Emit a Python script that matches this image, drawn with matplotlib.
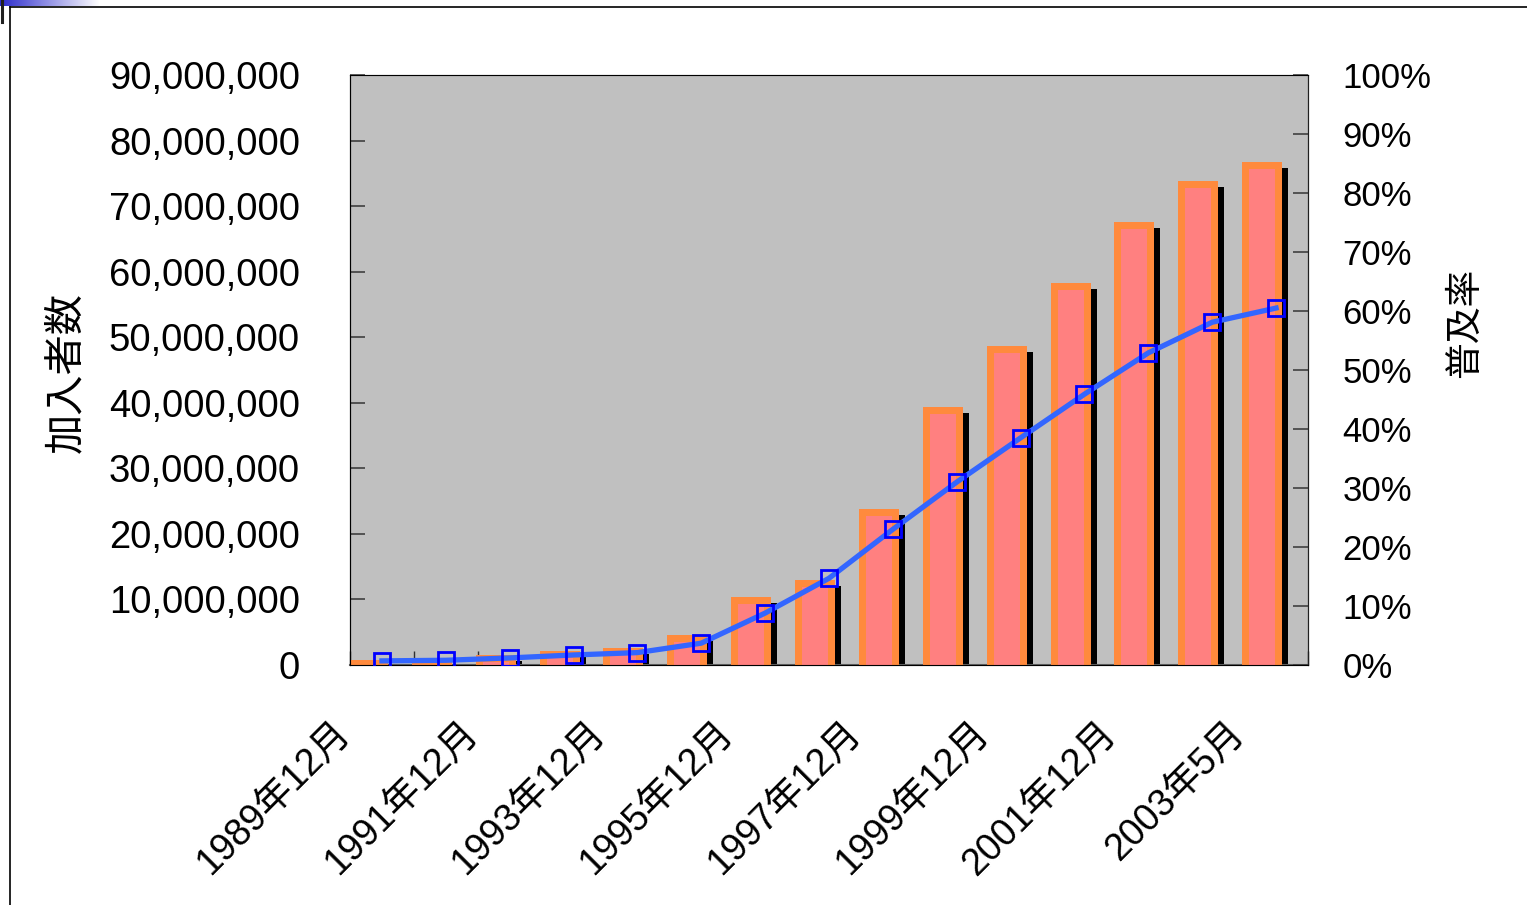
import numpy as np
import matplotlib
matplotlib.use("Agg")
import matplotlib.pyplot as plt
import matplotlib.transforms as mtransforms
from matplotlib.lines import Line2D
from matplotlib.ticker import FuncFormatter, MultipleLocator

plt.rcParams['font.family'] = ['Liberation Sans', 'Noto Sans CJK JP', 'DejaVu Sans']

# data
months = ["1989年12月", "1990年12月", "1991年12月", "1992年12月", "1993年12月",
          "1994年12月", "1995年12月", "1996年12月", "1997年12月", "1998年12月",
          "1999年12月", "2000年12月", "2001年12月", "2002年12月", "2003年5月"]
subscribers = [0.8e6, 1.1e6, 1.6e6, 2.1e6, 2.6e6, 4.6e6, 10.4e6, 13.0e6, 23.8e6,
               39.4e6, 48.6e6, 58.2e6, 67.6e6, 73.9e6, 76.8e6]
penetration = [0.7, 0.8, 1.2, 1.7, 2.1, 3.7, 8.8, 14.7, 23.0, 31.0, 38.5, 45.9,
               52.9, 58.1, 60.5]

W, H = 1527, 905
fig = plt.figure(figsize=(W / 100, H / 100), dpi=100)
ax = fig.add_axes([350 / W, 1 - 665 / H, 958 / W, 590 / H])
ax.set_facecolor('#C0C0C0')

x = np.arange(len(months))
cat_px = 958 / len(months)
px_y = 90e6 / 590
px_x = 1 / cat_px

left = x - 0.5 - 2 * px_x
bw = 40 * px_x
sub = np.array(subscribers)

# shadow, orange frame, pink inside
ax.bar(left + 6 * px_x, sub - 6 * px_y, width=bw, align='edge', color='black',
       zorder=2)
ax.bar(left, sub, width=bw, align='edge', color='#FF8A3D', zorder=3)
inner = np.clip(sub - 7 * px_y, 0, None)
ax.bar(left + 7 * px_x, inner, width=bw - 14 * px_x, align='edge',
       color='#FF8080', zorder=4)

ax.set_xlim(-0.5, len(months) - 0.5)
ax.set_ylim(0, 90e6)
ax.yaxis.set_major_locator(MultipleLocator(10e6))
ax.yaxis.set_major_formatter(FuncFormatter(lambda v, p: f"{int(v):,}"))
ax.tick_params(axis='y', direction='in', length=11, width=1.2, color='#404040',
               labelsize=27.5, pad=36)
ax.set_xticks(np.arange(-0.5, len(months), 1), minor=True)
ax.tick_params(axis='x', which='minor', direction='in', length=10, width=1,
               color='#303030')
ax.set_xticks(x[::2])
ax.set_xticklabels(months[::2], rotation=45, ha='right', va='top')
ax.tick_params(axis='x', which='major', length=0, labelsize=27, pad=36)
off = mtransforms.ScaledTranslation(-25 / 100, 0, fig.dpi_scale_trans)
for lab in ax.get_xticklabels():
    lab.set_transform(lab.get_transform() + off)

ax.spines['top'].set_color('#808080')
ax.spines['left'].set_color('#202020')
ax.spines['bottom'].set_color('#606060')
ax.spines['bottom'].set_linewidth(1.5)

ax.set_ylabel("加入者数", fontsize=29)
ax.yaxis.set_label_coords(-0.276, 0.495)

ax2 = ax.twinx()
ax2.plot(x, penetration, color='#3366FF', lw=3.8, zorder=5)
ax2.plot(x, penetration, ls='none', marker='s', ms=11, mfc='none', mec='#0000FF',
         mew=2, zorder=6)
ax2.set_ylim(0, 100)
ax2.yaxis.set_major_locator(MultipleLocator(10))
ax2.yaxis.set_major_formatter(FuncFormatter(lambda v, p: f"{int(v)}%"))
ax2.tick_params(axis='y', direction='in', length=11, width=1.2, color='#404040',
                labelsize=25, pad=25)
ax2.spines['right'].set_color('#202020')
ax2.set_ylabel("普及率", fontsize=26.5)
ax2.yaxis.set_label_coords(1.146, 0.58)

# slide frame
fig.add_artist(Line2D([10 / W, 1], [1 - 7 / H, 1 - 7 / H], transform=fig.transFigure,
                      color='black', lw=1.2))
fig.add_artist(Line2D([10 / W, 10 / W], [0, 1 - 7 / H], transform=fig.transFigure,
                      color='black', lw=1.2))
grad = np.linspace(0, 1, 100)
img = np.zeros((6, 100, 3))
img[:, :, 0] = 0.17 + 0.83 * grad
img[:, :, 1] = 0.17 + 0.83 * grad
img[:, :, 2] = 0.8 + 0.2 * grad
fig.figimage(img, xo=0, yo=H - 6, origin='upper')
fig.add_artist(Line2D([1.5 / W, 1.5 / W], [1 - 22 / H, 1], transform=fig.transFigure,
                      color='#202020', lw=2.2))

fig.savefig("out.png", dpi=100)
